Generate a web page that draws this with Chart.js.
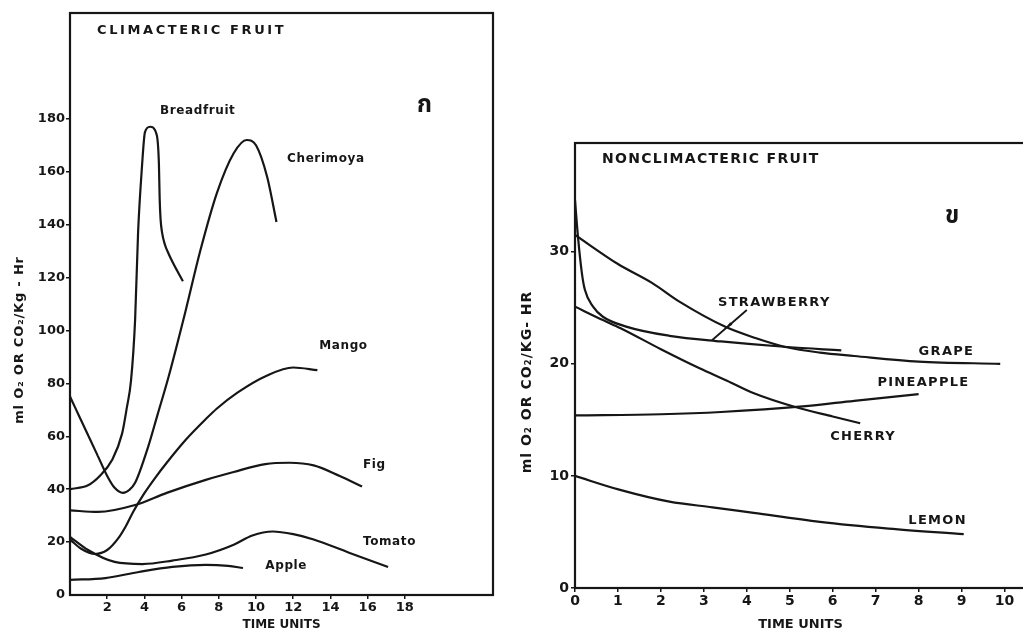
<!DOCTYPE html>
<html>
<head>
<meta charset="utf-8">
<script src="https://cdn.jsdelivr.net/npm/chart.js@4.4.0/dist/chart.umd.min.js"></script>
<style>
  html, body { margin: 0; padding: 0; background: #fff; overflow: hidden; }
  #climacteric { position: absolute; left: 0; top: 0; }
  #nonclimacteric { position: absolute; left: 515px; top: 0; }
</style>
</head>
<body>
<canvas id="climacteric" width="510" height="632"></canvas>
<canvas id="nonclimacteric" width="530" height="632"></canvas>
<script>
// climacteric fruit (time units / ml per kg-hr)
var breadfruitX = [0, 0.97, 1.6, 2.26, 2.8, 3.06, 3.28, 3.5, 3.66, 3.87, 4.03, 4.3, 4.66, 4.78, 4.82, 4.87, 4.95, 5.1, 5.3, 5.54, 6.07];
var breadfruitY = [40, 41.5, 45, 51, 61, 71, 81, 104, 137, 162, 175, 177, 174, 163, 150, 142, 137, 132.5, 129, 125.5, 118.6];
var cherimoyaX = [0, 0.5, 1.0, 1.5, 2.0, 2.4, 2.85, 3.2, 3.5, 4.2, 4.7, 5.3, 6.2, 7.0, 7.9, 8.8, 9.5, 10.0, 10.6, 11.1];
var cherimoyaY = [75, 67.5, 60, 52.5, 45, 40.5, 38.6, 39.8, 42.4, 56, 68, 82.5, 107, 130, 152, 167, 172, 170, 158, 141];
var mangoX = [0, 0.6, 1.34, 2.0, 2.6, 3.0, 3.4, 4.0, 4.6, 5.2, 6.2, 7.3, 7.9, 9.0, 10.6, 12.0, 13.3];
var mangoY = [21, 17.5, 15.5, 17, 21.5, 26, 31.5, 38.5, 44.5, 50, 58.5, 66.5, 70.5, 76.5, 83, 86, 85];
var figX = [0, 1.5, 3.5, 5.2, 7.3, 8.8, 10.5, 11.8, 13.1, 14.5, 15.7];
var figY = [32, 31.4, 34, 38.6, 43.5, 46.5, 49.5, 50, 49, 45, 41];
var tomatoX = [0, 0.97, 2.4, 3.9, 5.5, 7.3, 8.8, 9.8, 10.9, 12.0, 13.1, 15.0, 17.1];
var tomatoY = [22, 17, 12.5, 11.7, 13, 15.3, 19, 22.5, 24, 23, 21, 16, 10.6];
var appleX = [0, 1.9, 3.7, 5.5, 7.3, 8.5, 9.3];
var appleY = [5.7, 6.4, 8.7, 10.6, 11.4, 11.0, 10.2];

// nonclimacteric fruit
var strawberryX = [0, 0.07, 0.16, 0.23, 0.42, 0.65, 1.21, 2.2, 3.4, 4.94, 6.2];
var strawberryY = [34.6, 31.3, 28.1, 26.6, 25.1, 24.2, 23.3, 22.5, 22.0, 21.5, 21.2];
var grapeX = [0, 1.0, 1.8, 2.45, 3.5, 4.2, 4.9, 5.7, 6.5, 8.0, 9.9];
var grapeY = [31.5, 28.9, 27.2, 25.5, 23.3, 22.3, 21.5, 21.0, 20.7, 20.2, 20.0];
var cherryX = [0, 0.65, 1.05, 2.0, 2.9, 3.54, 4.15, 5.17, 6.0, 6.64];
var cherryY = [25.1, 23.9, 23.2, 21.3, 19.6, 18.5, 17.4, 16.1, 15.3, 14.7];
var pineappleX = [0, 2.0, 3.4, 5.3, 6.5, 8.0];
var pineappleY = [15.4, 15.5, 15.7, 16.2, 16.7, 17.3];
var lemonX = [0, 1.05, 2.2, 3.2, 4.16, 5.7, 7.3, 9.05];
var lemonY = [10, 8.75, 7.7, 7.2, 6.7, 5.9, 5.3, 4.8];

var climacticYTicks = [0, 20, 40, 60, 80, 100, 120, 140, 160, 180];
var climacticXTicks = [2, 4, 6, 8, 10, 12, 14, 16, 18];
var nonclimYTicks = [0, 10, 20, 30];
var nonclimXTicks = [0, 1, 2, 3, 4, 5, 6, 7, 8, 9, 10];

var INK = '#161616';

function toPoints(xs, ys) {
    return xs.map(function (x, i) { return { x: x, y: ys[i] }; });
}

function curve(xs, ys) {
    return {
        data: toPoints(xs, ys),
        borderColor: INK,
        borderWidth: 2.2,
        pointRadius: 0,
        fill: false,
        cubicInterpolationMode: 'monotone'
    };
}

// box round the plot, headings, Thai panel letter, y title and curve names
var panelDecor = {
    id: 'panelDecor',
    afterDraw: function (chart, args, opts) {
        var ctx = chart.ctx, a = chart.chartArea;
        var sx = chart.scales.x, sy = chart.scales.y;
        ctx.save();
        ctx.strokeStyle = INK;
        ctx.lineWidth = 2.2;
        ctx.strokeRect(a.left, a.top, a.right - a.left, a.bottom - a.top);

        ctx.fillStyle = INK;
        ctx.textBaseline = 'middle';
        ctx.textAlign = 'left';
        ctx.font = opts.titleFont;
        ctx.letterSpacing = opts.titleSpacing;
        ctx.fillText(opts.title, a.left + opts.titleDx, a.top + opts.titleDy);

        ctx.letterSpacing = '0px';
        ctx.font = 'bold 24px "Noto Sans Thai", Loma, Garuda, "DejaVu Sans", sans-serif';
        ctx.fillText(opts.letter, a.left + opts.letterDx, a.top + opts.letterDy);

        // rotated y axis title
        ctx.save();
        ctx.translate(opts.yTitleX, opts.yTitleY);
        ctx.rotate(-Math.PI / 2);
        ctx.textAlign = 'center';
        ctx.font = opts.yTitleFont;
        ctx.letterSpacing = opts.yTitleSpacing;
        ctx.fillText(opts.yTitle, 0, 0);
        ctx.restore();

        ctx.font = opts.labelFont;
        ctx.letterSpacing = opts.labelSpacing;
        opts.labels.forEach(function (l) {
            ctx.fillText(l.text, sx.getPixelForValue(l.x), sy.getPixelForValue(l.y));
        });

        if (opts.arrow) {
            var x0 = sx.getPixelForValue(opts.arrow[0]), y0 = sy.getPixelForValue(opts.arrow[1]);
            var x1 = sx.getPixelForValue(opts.arrow[2]), y1 = sy.getPixelForValue(opts.arrow[3]);
            ctx.lineWidth = 1.8;
            ctx.beginPath();
            ctx.moveTo(x0, y0);
            ctx.lineTo(x1, y1);
            ctx.stroke();
            var ang = Math.atan2(y0 - y1, x0 - x1);
            var mx = (x0 + x1) / 2, my = (y0 + y1) / 2;
            ctx.beginPath();
            ctx.moveTo(mx - 6 * Math.cos(ang), my - 6 * Math.sin(ang));
            ctx.lineTo(mx + 3 * Math.cos(ang + 0.6), my + 3 * Math.sin(ang + 0.6));
            ctx.lineTo(mx + 3 * Math.cos(ang - 0.6), my + 3 * Math.sin(ang - 0.6));
            ctx.closePath();
            ctx.fill();
        }
        ctx.restore();
    }
};

function tickColor(list) {
    return function (c) {
        return c.tick && list.indexOf(c.tick.value) >= 0 ? INK : 'rgba(0,0,0,0)';
    };
}

function axisFont(size) {
    return { family: '"DejaVu Sans", sans-serif', size: size, weight: 'bold' };
}

// chart 1: climacteric
var ctx = document.getElementById('climacteric').getContext('2d');
var chart = new Chart(ctx, {
    type: 'line',
    data: {
        datasets: [
            curve(breadfruitX, breadfruitY),
            curve(cherimoyaX, cherimoyaY),
            curve(mangoX, mangoY),
            curve(figX, figY),
            curve(tomatoX, tomatoY),
            curve(appleX, appleY)
        ]
    },
    options: {
        responsive: false,
        animation: false,
        layout: { padding: { top: 13, right: 17, left: 0, bottom: 0 } },
        plugins: {
            legend: { display: false },
            tooltip: { enabled: false },
            panelDecor: {
                title: 'CLIMACTERIC FRUIT',
                titleFont: 'bold 13px "DejaVu Sans", sans-serif',
                titleSpacing: '2.6px',
                titleDx: 27, titleDy: 18,
                letter: '\u0E01',
                letterDx: 347, letterDy: 94,
                yTitle: 'ml O\u2082 OR CO\u2082/Kg - Hr',
                yTitleFont: 'bold 13px "DejaVu Sans", sans-serif',
                yTitleSpacing: '0.8px',
                yTitleX: 20, yTitleY: 340,
                labelFont: 'bold 12px "DejaVu Sans", sans-serif',
                labelSpacing: '0.6px',
                labels: [
                    { text: 'Breadfruit', x: 4.84, y: 183 },
                    { text: 'Cherimoya', x: 11.67, y: 165 },
                    { text: 'Mango', x: 13.4, y: 94 },
                    { text: 'Fig', x: 15.75, y: 49 },
                    { text: 'Tomato', x: 15.75, y: 20 },
                    { text: 'Apple', x: 10.5, y: 11 }
                ]
            }
        },
        scales: {
            x: {
                type: 'linear', min: 0, max: 22.74,
                afterFit: function (s) { s.height = 37; },
                afterBuildTicks: function (s) { s.ticks = climacticXTicks.map(function (v) { return { value: v }; }); },
                ticks: { color: INK, font: axisFont(13), padding: 1, maxRotation: 0, autoSkip: false },
                grid: { drawOnChartArea: false, tickLength: 4, color: INK, lineWidth: 1.5 },
                border: { display: false },
                title: { display: true, text: 'TIME UNITS', color: INK, font: axisFont(12), padding: 0 }
            },
            y: {
                min: 0, max: 220,
                afterFit: function (s) { s.width = 70; },
                afterBuildTicks: function (s) { s.ticks = climacticYTicks.map(function (v) { return { value: v }; }); },
                ticks: { color: INK, font: axisFont(13), padding: 1 },
                grid: { drawOnChartArea: false, tickLength: 4, color: tickColor(climacticYTicks.slice(1)), lineWidth: 1.5 },
                border: { display: false }
            }
        }
    },
    plugins: [panelDecor]
});

// chart 2: nonclimacteric
var ctx = document.getElementById('nonclimacteric').getContext('2d');
var chart = new Chart(ctx, {
    type: 'line',
    data: {
        datasets: [
            curve(strawberryX, strawberryY),
            curve(grapeX, grapeY),
            curve(cherryX, cherryY),
            curve(pineappleX, pineappleY),
            curve(lemonX, lemonY)
        ]
    },
    options: {
        responsive: false,
        animation: false,
        layout: { padding: { top: 143, right: 19, left: 0, bottom: 0 } },
        plugins: {
            legend: { display: false },
            tooltip: { enabled: false },
            panelDecor: {
                title: 'NONCLIMACTERIC FRUIT',
                titleFont: 'bold 14px "DejaVu Sans", sans-serif',
                titleSpacing: '1.3px',
                titleDx: 27, titleDy: 16,
                letter: '\u0E02',
                letterDx: 370, letterDy: 75,
                yTitle: 'ml O\u2082 OR CO\u2082/KG- HR',
                yTitleFont: 'bold 14px "DejaVu Sans", sans-serif',
                yTitleSpacing: '1px',
                yTitleX: 12, yTitleY: 382,
                labelFont: 'bold 13px "DejaVu Sans", sans-serif',
                labelSpacing: '1.3px',
                labels: [
                    { text: 'STRAWBERRY', x: 3.33, y: 25.5 },
                    { text: 'GRAPE', x: 8.0, y: 21.1 },
                    { text: 'PINEAPPLE', x: 7.04, y: 18.3 },
                    { text: 'CHERRY', x: 5.94, y: 13.5 },
                    { text: 'LEMON', x: 7.76, y: 6.0 }
                ],
                arrow: [4.0, 24.8, 3.19, 22.1]
            }
        },
        scales: {
            x: {
                type: 'linear', min: 0, max: 10.5,
                afterFit: function (s) { s.height = 44; },
                afterBuildTicks: function (s) { s.ticks = nonclimXTicks.map(function (v) { return { value: v }; }); },
                ticks: { color: INK, font: axisFont(14), padding: 1, maxRotation: 0, autoSkip: false },
                grid: { drawOnChartArea: false, tickLength: 4, color: INK, lineWidth: 1.5 },
                border: { display: false },
                title: { display: true, text: 'TIME UNITS', color: INK, font: axisFont(13), padding: 0 }
            },
            y: {
                min: 0, max: 39.7,
                afterFit: function (s) { s.width = 60; },
                afterBuildTicks: function (s) { s.ticks = nonclimYTicks.map(function (v) { return { value: v }; }); },
                ticks: { color: INK, font: axisFont(14), padding: 2 },
                grid: { drawOnChartArea: false, tickLength: 4, color: INK, lineWidth: 1.5 },
                border: { display: false }
            }
        }
    },
    plugins: [panelDecor]
});
</script>
</body>
</html>
